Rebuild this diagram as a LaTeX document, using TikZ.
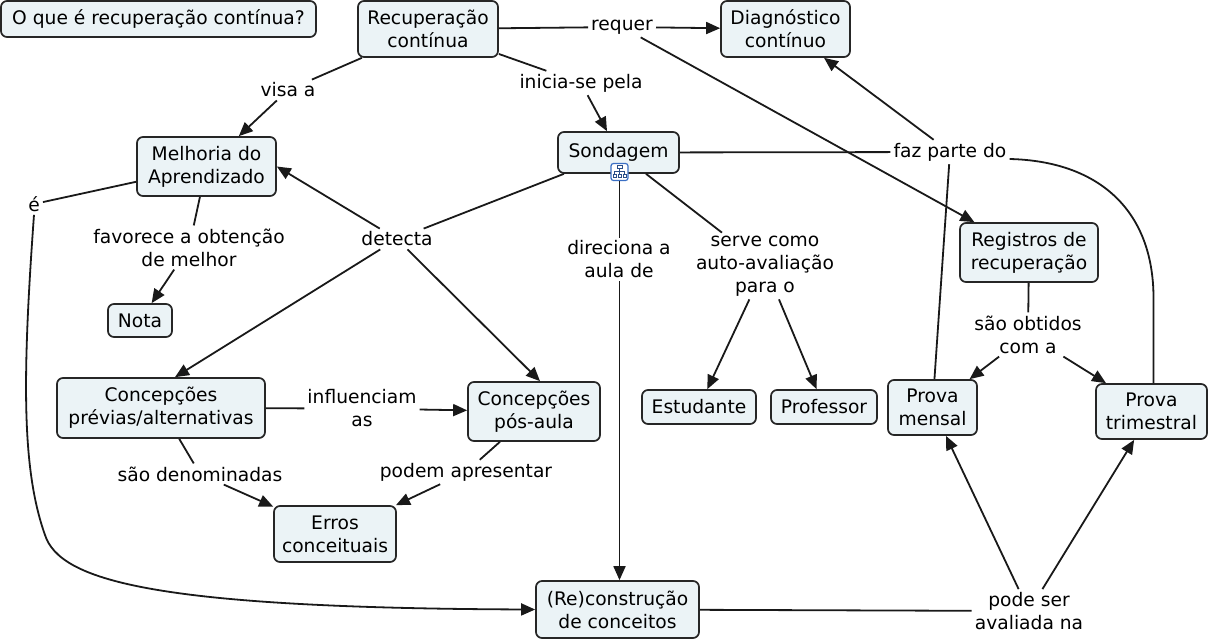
\documentclass[tikz,border=0pt]{standalone}
\usepackage{fontspec}
\setmainfont{DejaVu Sans}
\usetikzlibrary{arrows.meta}
\definecolor{boxfill}{HTML}{EBF3F6}
\definecolor{iconblue}{HTML}{3A6FC4}
\begin{document}
\begin{tikzpicture}[x=1pt,y=-1pt,
  font=\fontsize{18.67}{23}\selectfont,
  concept/.style={draw=black!85, line width=1.7pt, rounded corners=6pt, fill=boxfill, align=center, inner sep=0pt},
  lnk/.style={align=center, inner sep=3pt},
  con/.style={line width=1.8pt, draw=black!90},
  arr/.style={con, -{Triangle[length=14pt,width=12pt]}}]
\useasboundingbox (0,0) rectangle (1209,641);
% concepts
\node[concept, minimum width=315pt, minimum height=36pt] (q) at (158.5,19) {O que é recuperação contínua?};
\node[concept, minimum width=140pt, minimum height=56pt] (rc) at (428,29) {Recuperação\\contínua};
\node[concept, minimum width=129pt, minimum height=56pt] (diag) at (785.5,29) {Diagnóstico\\contínuo};
\node[concept, minimum width=139pt, minimum height=59pt] (mel) at (206.5,166.5) {Melhoria do\\Aprendizado};
\node[concept, minimum width=121pt, minimum height=41pt] (sond) at (618.5,152.5) {Sondagem};
\node[concept, minimum width=138pt, minimum height=59pt] (reg) at (1029,252.5) {Registros de\\recuperação};
\node[concept, minimum width=64pt, minimum height=33pt] (nota) at (140,320.5) {Nota};
\node[concept, minimum width=208pt, minimum height=60pt] (prev) at (161,408) {Concepções\\prévias/alternativas};
\node[concept, minimum width=132pt, minimum height=59pt] (pos) at (534,411.5) {Concepções\\pós-aula};
\node[concept, minimum width=114pt, minimum height=34pt] (est) at (699,407) {Estudante};
\node[concept, minimum width=106pt, minimum height=34pt] (prof) at (824,407) {Professor};
\node[concept, minimum width=89pt, minimum height=55pt] (mensal) at (932.5,407.5) {Prova\\mensal};
\node[concept, minimum width=111pt, minimum height=55pt] (tri) at (1151.5,411.5) {Prova\\trimestral};
\node[concept, minimum width=122pt, minimum height=56pt] (erros) at (335,534) {Erros\\conceituais};
\node[concept, minimum width=163pt, minimum height=57pt] (re) at (617.5,609.5) {(Re)construção\\de conceitos};
% icon
\node[draw=iconblue, fill=white, rounded corners=2.5pt, line width=1.2pt, minimum size=17pt, inner sep=0pt] (icon) at (619.5,172) {};
\begin{scope}[iconblue!70!black, line width=0.9pt]
\draw (617,165) rectangle (622,168.5);
\draw (619.5,168.5) -- (619.5,171) (614.5,171) -- (624.5,171) (614.5,171) -- (614.5,174) (624.5,171) -- (624.5,174) (619.5,171) -- (619.5,174);
\draw (613,174) rectangle (616,177.5) (618,174) rectangle (621,177.5) (623,174) rectangle (626,177.5);
\end{scope}
% linking phrases
\node[lnk] (req) at (622,27) {requer};
\node[lnk] (ini) at (581,83) {inicia-se pela};
\node[lnk] (visa) at (288,90) {visa a};
\node[lnk] (faz) at (950,152) {faz parte do};
\node[lnk] (e) at (34,204) {é};
\node[lnk] (fav) at (189,247.5) {favorece a obtenção\\de melhor};
\node[lnk] (det) at (397,239) {detecta};
\node[lnk] (dir) at (619,259.5) {direciona a\\aula de};
\node[lnk] (serve) at (765,266) {serve como\\auto-avaliação\\para o};
\node[lnk] (obt) at (1028,334.5) {são obtidos\\com a};
\node[lnk] (infl) at (362,408.5) {influenciam\\as};
\node[lnk] (den) at (200,474) {são denominadas};
\node[lnk] (pod) at (466,472) {podem apresentar};
\node[lnk] (aval) at (1029,611) {pode ser\\avaliada na};
% connectors
\draw[con] (rc) -- (req);
\draw[arr] (req) -- (diag);
\draw[arr] (req) -- (reg);
\draw[con] (rc) -- (visa);
\draw[arr] (visa) -- (mel);
\draw[con] (rc) -- (ini);
\draw[arr] (ini) -- (sond);
\draw[con] (sond) -- (faz);
\draw[arr] (faz) -- (diag);
\draw[con] (mensal) -- (faz);
\draw[con] ([xshift=2pt]tri.north) -- ++(0,-85) .. controls +(0,-89) and +(88,2) .. ([yshift=-7pt]faz.east);
\draw[con] (mel) -- (e);
\draw[arr] (e.south) .. controls (22,380) and (22,470) .. (45,535) .. controls (60,580) and (150,608) .. (re.west);
\draw[con] (mel) -- (fav);
\draw[arr] (fav) -- (nota);
\draw[con] (sond) -- (det);
\draw[arr] (det) -- (mel.east);
\draw[arr] (det) -- ([xshift=14pt]prev.north);
\draw[arr] (det) -- ([xshift=6pt]pos.north);
\draw[con] (icon.south) -- (icon.south |- dir.north);
\draw[arr] (icon.south |- dir.south) -- (icon.south |- re.north);
\draw[con] (sond) -- (serve);
\draw[arr] (serve) -- (est);
\draw[arr] (serve) -- (prof);
\draw[con] (reg) -- (obt);
\draw[arr] (obt) -- (mensal);
\draw[arr] (obt) -- (tri);
\draw[con] (prev) -- (infl);
\draw[arr] (infl) -- (pos);
\draw[con] (prev) -- (den);
\draw[arr] (den) -- (erros);
\draw[con] (pos) -- (pod);
\draw[arr] (pod) -- (erros);
\draw[con] (re) -- (aval);
\draw[arr] (aval) -- (mensal);
\draw[arr] (aval) -- (tri);
\end{tikzpicture}
\end{document}
